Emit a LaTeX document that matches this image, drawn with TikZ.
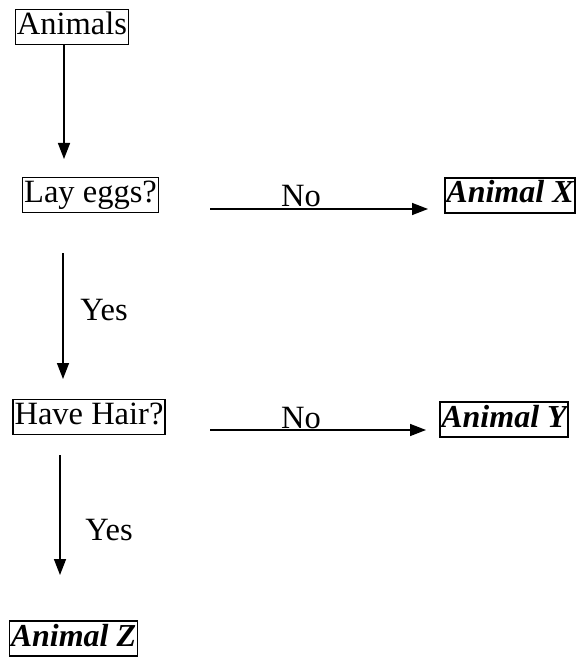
\documentclass[tikz,border=0pt]{standalone}
\usepackage{fontspec}
\setmainfont{Liberation Serif}
\usetikzlibrary{arrows.meta}
\begin{document}
\begin{tikzpicture}[x=1pt,y=-1pt,
  box/.style={draw,line width=1.6pt,inner xsep=1.5pt,inner ysep=3pt,text height=22pt,text depth=7pt,font=\fontsize{32.5}{36}\selectfont},
  animal/.style={box,font=\fontsize{32}{36}\selectfont\bfseries\itshape},
  lbl/.style={anchor=base,inner sep=0pt,font=\fontsize{32.5}{36}\selectfont},
  arr/.style={line width=1.5pt,-{Triangle[length=16pt,width=12pt]}}]
\useasboundingbox (0,0) rectangle (577,660);
\node[box] (animals) at (72,27) {Animals};
\node[box] (lay) at (90.5,195) {Lay eggs?};
\node[animal] (ax) at (510,195.5) {Animal X};
\node[box] (hair) at (89,417) {Have Hair?};
\node[animal] (ay) at (504,419.5) {Animal Y};
\node[animal] (az) at (73.5,638.5) {Animal Z};
\node[lbl] (no1) at (301,207) {No};
\node[lbl] (no2) at (301,428) {No};
\node[lbl] (yes1) at (104,320) {Yes};
\node[lbl] (yes2) at (109,540) {Yes};
\coordinate (t1) at (64,159);
\coordinate (y1s) at (63,253);
\coordinate (y1e) at (63,379);
\coordinate (y2s) at (60,455);
\coordinate (y2e) at (60,575);
\coordinate (n1s) at (210,209);
\coordinate (n1e) at (428,209);
\coordinate (n2s) at (210,430);
\coordinate (n2e) at (426,430);
\draw[arr] (animals.south -| t1) -- (t1);
\draw[arr] (y1s) -- (y1e);
\draw[arr] (y2s) -- (y2e);
\draw[arr] (n1s) -- (n1e);
\draw[arr] (n2s) -- (n2e);
\end{tikzpicture}
\end{document}
